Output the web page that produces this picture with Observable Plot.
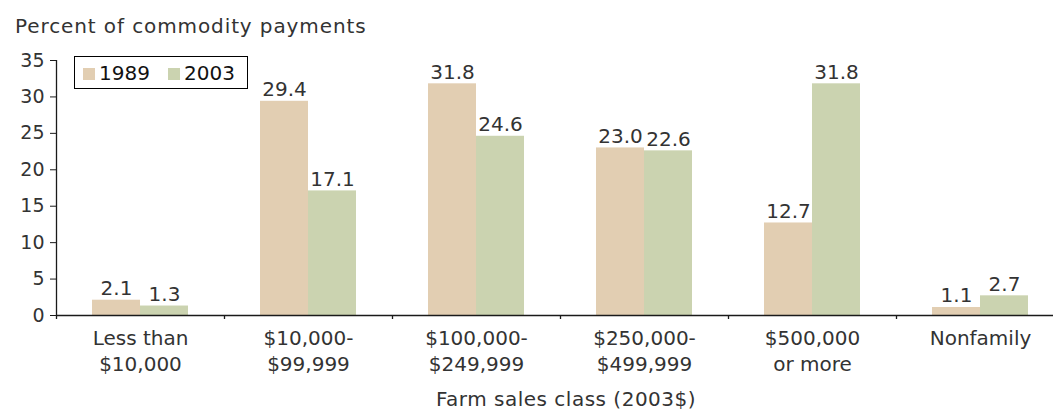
<!DOCTYPE html>
<html><head><meta charset="utf-8">
<script src="https://cdn.jsdelivr.net/npm/d3@7"></script>
<script src="https://cdn.jsdelivr.net/npm/@observablehq/plot@0.6"></script>
<style>
body{margin:0;background:#fff;}
#wrap{position:relative;width:1053px;height:411px;font-family:"DejaVu Sans",sans-serif;color:#333;overflow:hidden;}
#wrap svg{position:absolute;left:0;top:0;}
.txt{position:absolute;font-size:20px;line-height:20px;white-space:nowrap;z-index:2;}
#legend{position:absolute;left:74px;top:56px;width:172px;height:31px;border:1px solid #000;background:#fff;z-index:2;}
.sw{position:absolute;width:12px;height:12px;top:11px;}
.lt{position:absolute;top:6px;font-size:20px;line-height:20px;color:#111;}
</style></head><body>
<div id="wrap"></div>
<script>
const categories = ["Less than\n$10,000", "$10,000-\n$99,999", "$100,000-\n$249,999", "$250,000-\n$499,999", "$500,000\nor more", "Nonfamily"];
const years = ["1989", "2003"];
const values1989 = [2.1, 29.4, 31.8, 23.0, 12.7, 1.1];
const values2003 = [1.3, 17.1, 24.6, 22.6, 31.8, 2.7];
const yTicks = [0, 5, 10, 15, 20, 25, 30, 35];
const colors = ["#e2ceb2", "#cbd3b0"];
const yTitle = "Percent of commodity payments";
const xTitle = "Farm sales class (2003$)";

const d1989 = categories.map((c, i) => ({cat: c, year: years[0], value: values1989[i]}));
const d2003 = categories.map((c, i) => ({cat: c, year: years[1], value: values2003[i]}));
const fmt = d => d.value.toFixed(1);
const ink = "#333";

const chart = Plot.plot({
  width: 1053, height: 411,
  marginLeft: 56, marginRight: 0, marginTop: 60, marginBottom: 96,
  style: {fontFamily: '"DejaVu Sans", sans-serif', fontSize: "20px", color: ink, background: "transparent", overflow: "visible"},
  x: {type: "band", domain: categories, range: [56, 1064], padding: 0},
  y: {domain: [0, 35]},
  marks: [
    Plot.barY(d1989, {x: "cat", y: "value", fill: colors[0], insetLeft: 36, insetRight: 84}),
    Plot.barY(d2003, {x: "cat", y: "value", fill: colors[1], insetLeft: 84, insetRight: 36}),
    Plot.text(d1989, {x: "cat", y: "value", text: fmt, dx: -24, dy: -5, lineAnchor: "bottom", fill: ink, fontSize: 20}),
    Plot.text(d2003, {x: "cat", y: "value", text: fmt, dx: 24, dy: -5, lineAnchor: "bottom", fill: ink, fontSize: 20}),
    Plot.ruleY([0], {stroke: "#1a1a1a", strokeWidth: 1.3}),
    Plot.ruleX(categories, {x: d => d, y1: 0, y2: 0, dx: -84, insetBottom: -4, stroke: "#1a1a1a", strokeWidth: 1.3}),
    Plot.ruleX([categories[0]], {x: d => d, y1: 0, y2: 35, dx: -84, stroke: "#1a1a1a", strokeWidth: 1.3}),
    Plot.axisY({ticks: yTicks, tickSize: 6, tickPadding: 6, label: null, stroke: "#1a1a1a", fill: ink, fontSize: 19}),
    Plot.axisX({tickSize: 0, tickPadding: 11, label: null, lineHeight: 1.3, fill: ink, fontSize: 20})
  ]
});

const wrap = document.getElementById("wrap");
wrap.appendChild(chart);

const t1 = document.createElement("div");
t1.className = "txt"; t1.textContent = yTitle;
t1.style.left = "15px"; t1.style.top = "16px"; t1.style.letterSpacing = "0.9px";
wrap.appendChild(t1);

const t2 = document.createElement("div");
t2.className = "txt"; t2.textContent = xTitle;
t2.style.left = "566px"; t2.style.top = "389px"; t2.style.transform = "translateX(-50%)"; t2.style.letterSpacing = "0.5px";
wrap.appendChild(t2);

const lg = document.createElement("div");
lg.id = "legend";
const swLeft = [8, 93], txLeft = [24, 109];
years.forEach((y, i) => {
  const s = document.createElement("div");
  s.className = "sw"; s.style.left = swLeft[i] + "px"; s.style.background = colors[i];
  lg.appendChild(s);
  const t = document.createElement("div");
  t.className = "lt"; t.style.left = txLeft[i] + "px"; t.textContent = y;
  lg.appendChild(t);
});
wrap.appendChild(lg);
</script>
</body></html>
